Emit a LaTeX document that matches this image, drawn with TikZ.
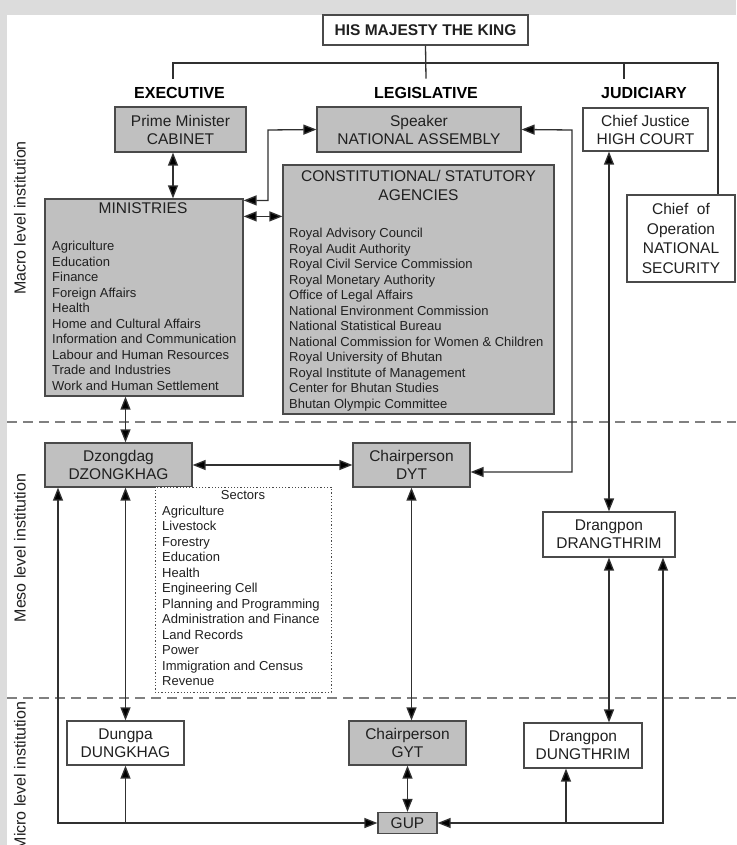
\documentclass[tikz,border=0pt]{standalone}
\usepackage{fontspec}
\setmainfont{Liberation Sans}
\usepackage{xcolor}
\usepackage{tikz}
\usetikzlibrary{arrows.meta,calc}

\definecolor{bggrey}{HTML}{DCDCDC}
\definecolor{boxgrey}{HTML}{C0C0C0}
\definecolor{edgegrey}{HTML}{4A4A4A}
\definecolor{linegrey}{HTML}{303030}
\definecolor{dashgrey}{HTML}{808080}
\definecolor{inkgrey}{HTML}{202020}

\begin{document}
\begin{tikzpicture}[x=1pt,y=-1pt,>={Triangle[length=13pt,width=10pt,fill=black]},
box/.style={draw=edgegrey,line width=1.2pt,fill=white,inner sep=0pt,align=center,text=inkgrey,font=\fontsize{15.5}{18}\selectfont},
greybox/.style={box,fill=boxgrey},
boxtitle/.style={inner sep=0pt,align=center,text=inkgrey,font=\fontsize{15.5}{19}\selectfont},
heading/.style={inner xsep=2pt,inner ysep=8.5pt,text=black,font=\fontsize{16}{19}\selectfont\bfseries},
listtext/.style={inner sep=0pt,anchor=north west,align=left,text=inkgrey,font=\fontsize{13}{15.5}\selectfont},
side/.style={rotate=90,inner sep=0pt,text=inkgrey,font=\fontsize{16}{19}\selectfont},
link/.style={draw=linegrey,line width=1.3pt},
level/.style={draw=dashgrey,line width=1.2pt,dash pattern=on 10pt off 6pt}]
\fill[bggrey](0,0)rectangle(736,845);
\fill[white](7,15)rectangle(736,845);
\useasboundingbox(0,0)rectangle(736,845);
\draw[level](7,422)--(736,422);
\draw[level](7,698)--(736,698);
\node[side](macro)at(20,218){Macro level institution};
\node[side](meso)at(20,548){Meso level institution};
\node[side](micro)at(20,776){Micro level institution};
% top of the tree
\node[box,minimum width=205pt,minimum height=30pt,font=\fontsize{15.5}{18}\selectfont\bfseries](king)at(425.5,30){HIS MAJESTY THE KING};
\node[heading](exec)at(179.5,93){EXECUTIVE};
\node[heading](legis)at(426,93){LEGISLATIVE};
\node[heading](judic)at(644,93){JUDICIARY};
\coordinate(busW)at(173,63);
\coordinate(busJ)at(624,63);
\coordinate(busE)at(718,63);
\node[greybox,minimum width=131pt,minimum height=45pt](pm)at(180.5,129.5){Prime Minister\\CABINET};
\node[greybox,minimum width=204pt,minimum height=45pt](speaker)at(419,129.5){Speaker\\NATIONAL ASSEMBLY};
\node[box,minimum width=125pt,minimum height=43pt](hc)at(645.5,129.5){Chief Justice\\HIGH COURT};
\node[box,minimum width=108pt,minimum height=87pt,font=\fontsize{15.5}{19.5}\selectfont](sec)at(681,238.5){Chief\ \ of\\Operation\\NATIONAL\\SECURITY};
% macro level
\node[greybox,minimum width=198pt,minimum height=197pt](min)at(144,297.5){};
\node[boxtitle](mintitle)at(143,208){MINISTRIES};
\node[listtext](minlist)at(52,241){Agriculture\\Education\\Finance\\Foreign Affairs\\Health\\Home and Cultural Affairs\\Information and Communication\\Labour and Human Resources\\Trade and Industries\\Work and Human Settlement};
\node[greybox,minimum width=271pt,minimum height=249pt](agen)at(418.5,289.5){};
\node[boxtitle](agentitle)at(418.5,185.5){CONSTITUTIONAL/ STATUTORY\\AGENCIES};
\node[listtext](agenlist)at(289,228){Royal Advisory Council\\Royal Audit Authority\\Royal Civil Service Commission\\Royal Monetary Authority\\Office of Legal Affairs\\National Environment Commission\\National Statistical Bureau\\National Commission for Women \& Children\\Royal University of Bhutan\\Royal Institute of Management\\Center for Bhutan Studies\\Bhutan Olympic Committee};
% meso level
\node[greybox,minimum width=147pt,minimum height=44pt](dzong)at(118.5,465){Dzongdag\\DZONGKHAG};
\node[greybox,minimum width=117pt,minimum height=44pt](dyt)at(411.5,465){Chairperson\\DYT};
\node[box,dotted,line width=0.9pt,minimum width=176pt,minimum height=205pt](sect)at(243,589.5){};
\node[boxtitle,font=\fontsize{13}{15.5}\selectfont](secttitle)at(243,495){Sectors};
\node[listtext](sectlist)at(162,505.5){Agriculture\\Livestock\\Forestry\\Education\\Health\\Engineering Cell\\Planning and Programming\\Administration and Finance\\Land Records\\Power\\Immigration and Census\\Revenue};
\node[box,minimum width=132pt,minimum height=45pt](drang)at(609,534.5){Drangpon\\DRANGTHRIM};
% micro level
\node[box,minimum width=117pt,minimum height=44pt](dungkhag)at(125.5,743){Dungpa\\DUNGKHAG};
\node[greybox,minimum width=117pt,minimum height=44pt](gyt)at(407.5,743){Chairperson\\GYT};
\node[box,minimum width=118pt,minimum height=45pt](dungthrim)at(583,745.5){Drangpon\\DUNGTHRIM};
\node[greybox,minimum width=59pt,minimum height=21pt](gup)at(407.5,823){GUP};
\coordinate(loopW)at(58,823);
\coordinate(loopE)at(663,823);
\coordinate(spkW)at(268,130);
\coordinate(spkE)at(572,130);
\coordinate(dtin)at([xshift=-17pt]dungthrim.south);
% connectors
\draw[link](king.south)--(legis.north);
\draw[link](busW|-exec.north)--(busW)--(busE)--(busE|-sec.north);
\draw[link](busJ)--(busJ|-judic.north);
\draw[link,<->]([xshift=-7.5pt]pm.south)--([xshift=-7.5pt]pm.south|-min.north);
\draw[link,<->]([yshift=-2pt]min.north east)-|(spkW)--(speaker.west);
\draw[link,<->]([yshift=-18pt]min.north east)--([yshift=-18pt]min.north east-|agen.west);
\draw[link,<->](speaker.east)--(spkE)|-([yshift=-7pt]dyt.east);
\draw[link,<->](hc.south-|drang.north)--(drang.north);
\draw[link,<->](min.south-|dungkhag.north)--(dzong.north-|dungkhag.north);
\draw[link,<->](dzong.east)--(dyt.west);
\draw[link,<->](dyt.south)--(dyt.south|-gyt.north);
\draw[link,<->](dzong.south-|dungkhag.north)--(dungkhag.north);
\draw[link,<->](drang.south)--(drang.south|-dungthrim.north);
\draw[link,<->](gyt.south)--(gup.north);
\draw[link,<->](loopW|-dzong.south)--(loopW)--(gup.west);
\draw[link,->](loopW-|dungkhag.south)--(dungkhag.south);
\draw[link,<->](gup.east)--(loopE)--(loopE|-drang.south);
\draw[link,->](loopE-|dtin)--(dtin);
\end{tikzpicture}
\end{document}
